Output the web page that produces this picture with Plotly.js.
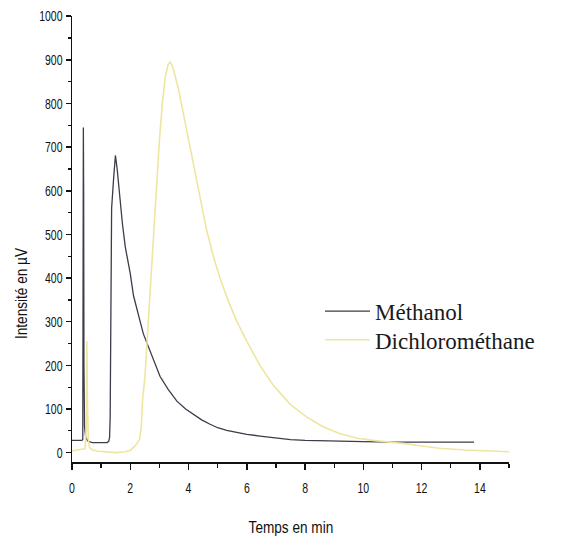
<!DOCTYPE html>
<html>
<head>
<meta charset="utf-8">
<script src="https://cdn.plot.ly/plotly-3.0.1.min.js"></script>
<style>html,body{margin:0;padding:0;background:#fff;}#chart{width:574px;height:541px;}</style>
</head>
<body>
<div id="chart"></div>
<script>
// Methanol chromatogram (time in min, signal in µV)
const methanolTime = [0, 0.34, 0.37, 0.38, 0.39, 0.40, 0.41, 0.43, 0.47, 0.55, 0.7, 1.0, 1.2, 1.26, 1.29, 1.31, 1.33, 1.36, 1.43, 1.49, 1.55, 1.64, 1.73, 1.83, 1.92, 2.0, 2.11, 2.23, 2.34, 2.45, 2.59, 2.8, 3.02, 3.3, 3.6, 3.9, 4.16, 4.45, 4.74, 5.0, 5.31, 5.7, 6.0, 6.45, 7.0, 7.5, 8.0, 9.0, 10.0, 11.0, 12.0, 13.0, 13.8];
const methanolSignal = [28, 28, 30, 400, 745, 600, 200, 60, 35, 26, 23, 23, 23, 26, 35, 80, 300, 560, 630, 681, 650, 585, 525, 471, 440, 410, 360, 325, 300, 272, 248, 208, 175, 145, 118, 100, 88, 75, 65, 57, 51, 45, 42, 38, 33, 30, 28, 26, 25, 24, 24, 24, 24];
// Dichloromethane chromatogram
const dcmTime = [0, 0.3, 0.45, 0.49, 0.51, 0.53, 0.56, 0.6, 0.7, 0.9, 1.2, 1.5, 1.8, 2.0, 2.2, 2.32, 2.38, 2.42, 2.5, 2.6, 2.7, 2.8, 2.9, 3.0, 3.1, 3.2, 3.3, 3.37, 3.45, 3.55, 3.65, 3.8, 3.94, 4.1, 4.3, 4.5, 4.62, 4.85, 5.08, 5.35, 5.65, 6.0, 6.45, 6.9, 7.5, 8.05, 8.6, 9.2, 9.8, 10.33, 11.0, 11.5, 12.0, 12.6, 13.5, 14.2, 15.0];
const dcmSignal = [4, 7, 9, 60, 255, 120, 30, 12, 6, 3, 1, 0, 2, 5, 18, 30, 60, 120, 170, 280, 390, 500, 610, 715, 800, 860, 890, 895, 885, 862, 835, 785, 738, 685, 615, 550, 510, 450, 400, 350, 302, 255, 200, 155, 110, 82, 60, 43, 33, 28, 24, 20, 15, 10, 6, 4, 2];
const seriesNames = ['Méthanol', 'Dichlorométhane'];
const xTitle = 'Temps en min';
const yTitle = 'Intensité en µV';

const sans = 'Liberation Sans, Arial, sans-serif';
const serif = 'Liberation Serif, Times New Roman, serif';

const traces = [
  {x: methanolTime, y: methanolSignal, name: seriesNames[0], type: 'scatter', mode: 'lines',
   line: {color: '#3c3c4a', width: 1.3}, legend: 'legend'},
  {x: dcmTime, y: dcmSignal, name: seriesNames[1], type: 'scatter', mode: 'lines',
   line: {color: '#eee6a0', width: 1.6}, legend: 'legend2'}
];

const legendCommon = {
  font: {family: serif, size: 23, color: '#1a1a1a'},
  bgcolor: 'rgba(0,0,0,0)', borderwidth: 0, itemwidth: 45,
  xanchor: 'left', yanchor: 'middle', x: 0.5675
};

const layout = {
  width: 574, height: 541,
  margin: {l: 72, r: 65, t: 16, b: 79, pad: 0},
  paper_bgcolor: '#fff', plot_bgcolor: '#fff',
  showlegend: true,
  legend: Object.assign({}, legendCommon, {y: 0.338}),
  legend2: Object.assign({}, legendCommon, {y: 0.274}),
  xaxis: {
    range: [0, 15], dtick: 2, tick0: 0,
    showgrid: false, zeroline: false,
    showline: true, linecolor: '#111', linewidth: 1.5,
    ticks: 'outside', ticklen: 6, tickwidth: 1.5, tickcolor: '#111',
    minor: {dtick: 1, ticks: 'outside', ticklen: 4, tickwidth: 1.3, tickcolor: '#111'},
    tickfont: {family: sans, size: 15, color: '#111'},
    ticklabelstandoff: 5
  },
  yaxis: {
    range: [-21.5, 1000.5], dtick: 100, tick0: 0,
    showgrid: false, zeroline: false,
    showline: true, linecolor: '#111', linewidth: 1.5,
    ticks: 'outside', ticklen: 5, tickwidth: 1.5, tickcolor: '#111',
    minor: {dtick: 50, ticks: 'outside', ticklen: 3, tickwidth: 1.3, tickcolor: '#111'},
    tickfont: {family: sans, size: 15, color: '#111'}
  },
  annotations: [
    {text: xTitle, xref: 'paper', yref: 'paper', x: 0.5, y: -0.1464, xanchor: 'center', yanchor: 'middle',
     showarrow: false, font: {family: sans, size: 17, color: '#111'}},
    {text: yTitle, xref: 'paper', yref: 'paper', x: -0.1167, y: 0.378, xanchor: 'center', yanchor: 'middle',
     textangle: -90, showarrow: false, font: {family: sans, size: 17, color: '#111'}}
  ]
};

function condense(selector, factor) {
  document.querySelectorAll(selector).forEach(function (t) {
    const w = t.getComputedTextLength();
    if (w > 0) {
      t.setAttribute('textLength', (w * factor).toFixed(2));
      t.setAttribute('lengthAdjust', 'spacingAndGlyphs');
    }
  });
}

Plotly.newPlot('chart', traces, layout, {displayModeBar: false, staticPlot: true}).then(function () {
  condense('.xtick text, .ytick text', 0.7);
  condense('.annotation-text', 0.8);
});
</script>
</body>
</html>
